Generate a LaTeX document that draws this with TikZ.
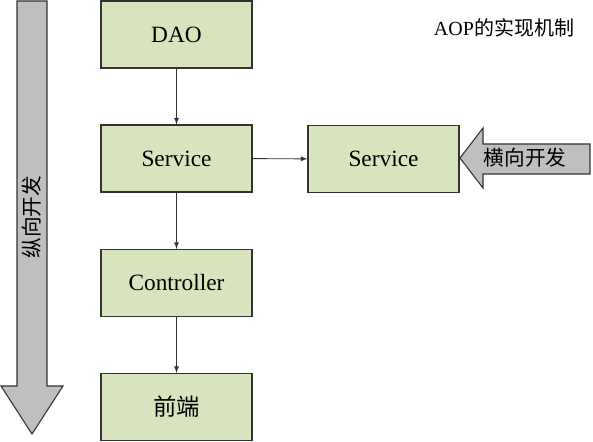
\documentclass[tikz,border=0pt]{standalone}
\usepackage{fontspec}
\setmainfont{Liberation Serif}
\newfontfamily\cjk{Noto Sans CJK SC}
\definecolor{layerfill}{HTML}{D7E4BD}
\definecolor{arrowfill}{HTML}{BFBFBF}
\definecolor{edge}{HTML}{333333}

\begin{document}
\begin{tikzpicture}[x=0.75pt,y=-0.75pt,
	layer/.style={draw=edge,fill=layerfill,line width=0.9pt,minimum width=113.25pt,minimum height=50.25pt,inner sep=0pt,font=\fontsize{17.5}{17.5}\selectfont},
	flow/.style={-latex,line width=0.7pt,draw=edge},
	bigarrow/.style={fill=arrowfill,draw=edge,line width=0.8pt}]
	\useasboundingbox (0,0) rectangle (593,442);
	% big arrows
	\draw[bigarrow] (17,1) -- (47,1) -- (47,386) -- (63,386) -- (32,434) -- (1,386) -- (17,386) -- cycle;
	\node[rotate=90,font=\cjk\fontsize{15.5}{15.5}\selectfont] (vert) at (32,217) {纵向开发};
	\draw[bigarrow] (590,144) -- (483,144) -- (483,128) -- (460,158) -- (483,188) -- (483,174) -- (590,174) -- cycle;
	\node[font=\cjk\fontsize{15.5}{15.5}\selectfont] (horiz) at (525,158) {横向开发};
	% layers
	\node[layer] (dao)  at (176.5,34.5) {DAO};
	\node[layer] (serv) at (176.5,158.5) {Service};
	\node[layer] (ctrl) at (176.5,283) {Controller};
	\node[layer] (front) at (176.5,407) {\cjk 前端};
	\node[layer] (aop)  at (383.5,159) {Service};
	% title
	\node[font=\fontsize{15}{15}\selectfont] (title) at (504,28) {AOP{\cjk 的实现机制}};
	% connectors
	\draw[flow] (dao) -- (serv);
	\draw[flow] (serv) -- (ctrl);
	\draw[flow] (ctrl) -- (front);
	\draw[flow] (serv) -- (aop);
\end{tikzpicture}
\end{document}
